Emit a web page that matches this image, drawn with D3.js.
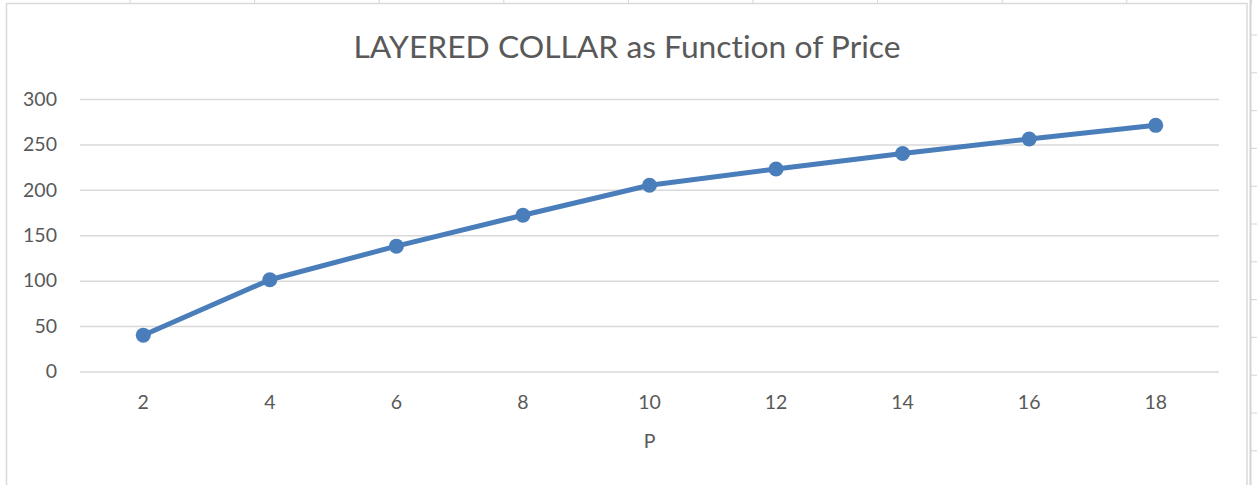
<!DOCTYPE html>
<html>
<head>
<meta charset="utf-8">
<script src="https://cdn.jsdelivr.net/npm/d3@7"></script>
<style>
  html, body { margin: 0; padding: 0; background: #fff; }
  svg { display: block; }
  text { font-variant-ligatures: none; font-feature-settings: "liga" 0; }
</style>
</head>
<body>
<svg id="chart" width="1257" height="485"></svg>
<script>
// Layered collar value at each price level
const prices = [2, 4, 6, 8, 10, 12, 14, 16, 18];
const collarValues = [40, 101, 138, 172, 205, 223, 240, 256, 271];
const yTicks = [0, 50, 100, 150, 200, 250, 300];
const chartTitle = "LAYERED COLLAR as Function of Price";
const xAxisTitle = "P";

const W = 1257, H = 485;
const svg = d3.select("#chart");
const font = "Lato, 'Open Sans', sans-serif";
const textColor = "#595959";
const gridColor = "#d9d9d9";
const lineColor = "#4a7ebb";

// Worksheet cell lines around the embedded chart
const sheet = svg.append("g");
const colStep = 124.6;
for (let x = 130; x < W; x += colStep) {
  sheet.append("line").attr("x1", x).attr("x2", x).attr("y1", 0).attr("y2", 4)
    .attr("stroke", "#d4d4d4").attr("stroke-width", 1);
}
sheet.append("line").attr("x1", 1250.5).attr("x2", 1250.5).attr("y1", 0).attr("y2", H)
  .attr("stroke", "#d4d4d4").attr("stroke-width", 2);
for (let y = 35; y < H; y += 37.8) {
  sheet.append("line").attr("x1", 1251).attr("x2", W).attr("y1", y).attr("y2", y)
    .attr("stroke", "#d4d4d4").attr("stroke-width", 1);
}

// Chart area
svg.append("rect").attr("x", 6.5).attr("y", 3.5).attr("width", 1240.5).attr("height", H + 10)
  .attr("fill", "#fff").attr("stroke", "#d9d9d9").attr("stroke-width", 1.5);

const plot = { left: 80, right: 1219, top: 99, bottom: 371.5 };

const x = d3.scaleBand().domain(prices).range([plot.left, plot.right]);
const y = d3.scaleLinear().domain([0, 300]).range([plot.bottom, plot.top]);

// Title
svg.append("text").attr("x", 627).attr("y", 58)
  .attr("text-anchor", "middle").attr("font-family", font).attr("font-size", 31.8)
  .attr("fill", textColor).text(chartTitle);

// Horizontal gridlines
const yAxis = d3.axisLeft(y).tickValues(yTicks).tickSize(-(plot.right - plot.left)).tickPadding(23);
const gy = svg.append("g").attr("transform", `translate(${plot.left},0)`).call(yAxis);
gy.select(".domain").remove();
gy.selectAll(".tick line").attr("stroke", gridColor).attr("stroke-width", 1.5);
gy.selectAll(".tick text").attr("font-family", font).attr("font-size", 19.5)
  .attr("fill", textColor);

// Category axis labels
const xAxis = d3.axisBottom(x).tickSize(0).tickPadding(24);
const gx = svg.append("g").attr("transform", `translate(0,${plot.bottom})`).call(xAxis);
gx.select(".domain").remove();
gx.selectAll(".tick text").attr("font-family", font).attr("font-size", 19.5)
  .attr("fill", textColor);

svg.append("text").attr("x", (plot.left + plot.right) / 2).attr("y", 448)
  .attr("text-anchor", "middle").attr("font-family", font).attr("font-size", 19.5)
  .attr("fill", textColor).text(xAxisTitle);

// Series line and markers
const cx = (d, i) => x(prices[i]) + x.bandwidth() / 2;
const line = d3.line().x(cx).y(d => y(d));
svg.append("path").datum(collarValues).attr("d", line)
  .attr("fill", "none").attr("stroke", lineColor).attr("stroke-width", 5)
  .attr("stroke-linejoin", "round").attr("stroke-linecap", "round");
svg.selectAll("circle.pt").data(collarValues).enter().append("circle")
  .attr("class", "pt").attr("cx", cx).attr("cy", d => y(d)).attr("r", 7.5)
  .attr("fill", lineColor);
</script>
</body>
</html>
